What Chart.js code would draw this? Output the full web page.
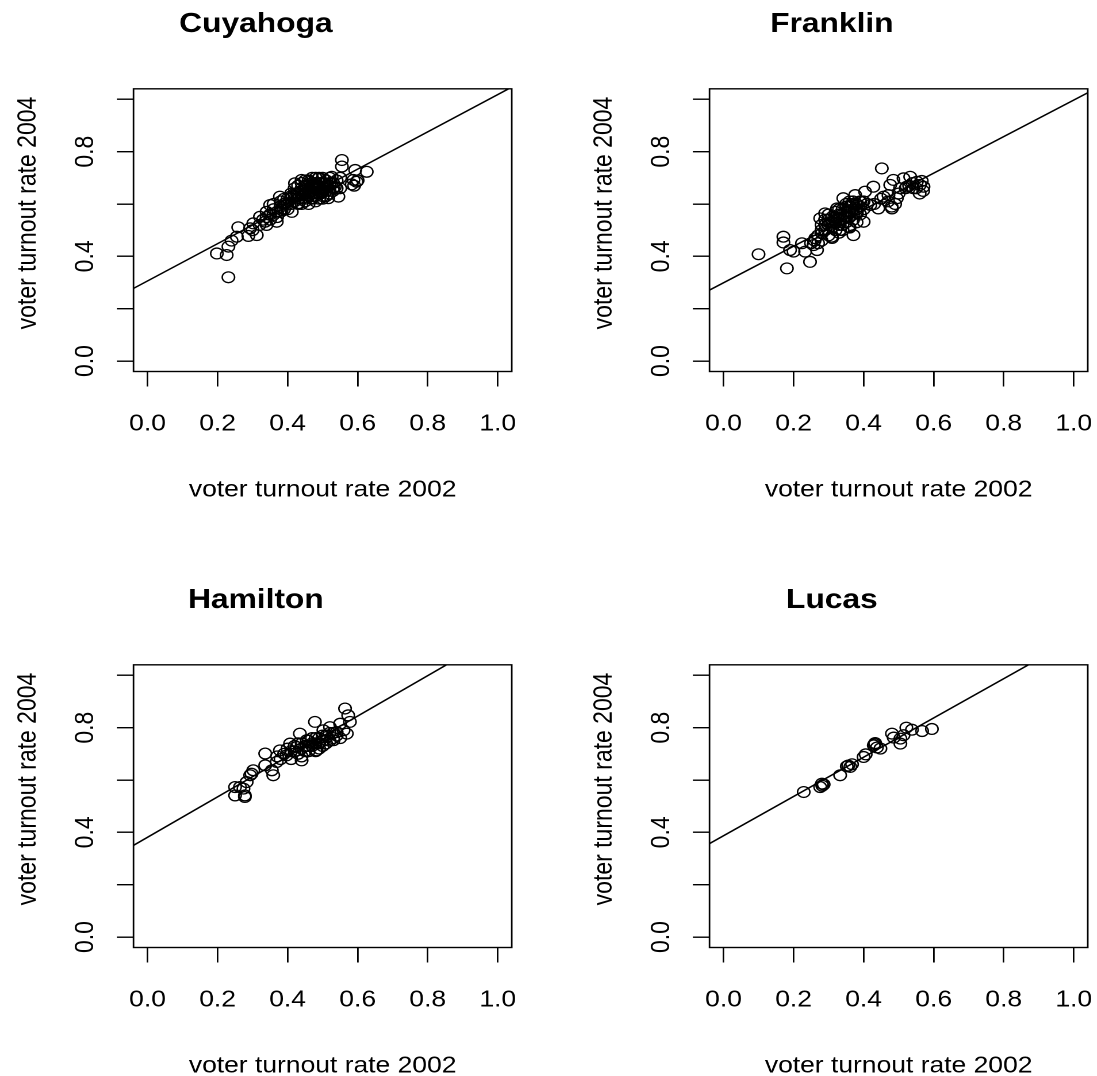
<!DOCTYPE html>
<html>
<head>
<meta charset="utf-8">
<script src="https://cdn.jsdelivr.net/npm/chart.js@4.4.1/dist/chart.umd.min.js"></script>
<style>
  html, body { margin: 0; padding: 0; background: #fff; overflow: hidden; }
  body { width: 1097px; height: 1076px; position: relative; }
  canvas { position: absolute; transform-origin: 0 0; }
</style>
</head>
<body>
<canvas id="c0" width="453" height="540"></canvas>
<canvas id="c1" width="453" height="540"></canvas>
<canvas id="c2" width="453" height="540"></canvas>
<canvas id="c3" width="453" height="540"></canvas>
<script>
// voter turnout by precinct: [rate 2002, rate 2004]
const cuyahoga = [
  [0.231,0.320],[0.198,0.411],[0.226,0.405],[0.231,0.437],[0.240,0.460],[0.255,0.475],[0.259,0.511],
  [0.288,0.478],[0.293,0.507],[0.302,0.526],[0.312,0.481],[0.321,0.551],[0.336,0.532],[0.340,0.570],
  [0.350,0.596],[0.359,0.558],[0.369,0.532],[0.378,0.628],[0.383,0.577],[0.393,0.603],[0.412,0.570],
  [0.421,0.679],[0.426,0.641],[0.431,0.603],[0.440,0.692],[0.450,0.653],[0.464,0.685],[0.469,0.622],
  [0.478,0.666],[0.488,0.698],[0.497,0.641],[0.507,0.679],[0.516,0.622],[0.526,0.704],[0.535,0.666],
  [0.545,0.628],[0.555,0.768],[0.555,0.743],[0.550,0.660],[0.593,0.730],[0.597,0.685],[0.588,0.692],
  [0.626,0.723],[0.583,0.675],[0.590,0.670],[0.600,0.690],
  [0.40,0.62],[0.41,0.60],[0.41,0.64],[0.42,0.61],[0.42,0.66],[0.43,0.63],[0.43,0.67],[0.44,0.62],
  [0.44,0.65],[0.44,0.68],[0.45,0.61],[0.45,0.64],[0.45,0.67],[0.46,0.63],[0.46,0.66],[0.46,0.69],
  [0.47,0.62],[0.47,0.65],[0.47,0.68],[0.48,0.63],[0.48,0.67],[0.48,0.70],[0.49,0.64],[0.49,0.66],
  [0.50,0.65],[0.50,0.68],[0.50,0.62],[0.51,0.66],[0.51,0.69],[0.52,0.64],[0.52,0.67],[0.53,0.65],
  [0.53,0.68],[0.54,0.66],[0.44,0.60],[0.46,0.60],[0.48,0.61],[0.49,0.70],[0.45,0.69],[0.47,0.70],
  [0.42,0.63],[0.39,0.60],[0.38,0.59],[0.37,0.57],[0.36,0.58],[0.35,0.56],[0.34,0.55],[0.33,0.54],
  [0.36,0.60],[0.40,0.58],[0.39,0.62],[0.30,0.50],[0.32,0.52],[0.34,0.52],[0.35,0.54],[0.37,0.55],
  [0.38,0.61],[0.41,0.62],[0.43,0.60],[0.50,0.70],[0.52,0.70],[0.54,0.69],[0.55,0.70],[0.51,0.63],
  [0.49,0.62],[0.43,0.64],[0.44,0.66],[0.45,0.62],[0.45,0.65],[0.46,0.64],[0.46,0.67],[0.47,0.63],
  [0.47,0.66],[0.48,0.64],[0.48,0.66],[0.48,0.68],[0.49,0.65],[0.49,0.67],[0.50,0.63],[0.50,0.66],
  [0.51,0.65],[0.51,0.67],[0.52,0.65],[0.52,0.68],[0.53,0.66],[0.42,0.64],[0.43,0.62],[0.44,0.64],
  [0.46,0.65],[0.47,0.67],[0.49,0.68],[0.41,0.63],[0.40,0.60],[0.39,0.58],[0.38,0.57]
];
const franklin = [
  [0.452,0.736],[0.100,0.408],[0.181,0.354],[0.171,0.475],[0.171,0.453],[0.190,0.424],[0.200,0.418],
  [0.224,0.450],[0.233,0.418],[0.247,0.379],[0.257,0.443],[0.267,0.424],[0.262,0.469],[0.281,0.488],
  [0.276,0.545],[0.290,0.564],[0.300,0.520],[0.309,0.475],[0.319,0.539],[0.324,0.583],[0.333,0.501],
  [0.342,0.622],[0.347,0.551],[0.357,0.513],[0.362,0.590],[0.371,0.481],[0.376,0.634],[0.381,0.564],
  [0.390,0.609],[0.400,0.532],[0.404,0.647],[0.419,0.596],[0.428,0.666],[0.442,0.583],[0.457,0.628],
  [0.471,0.634],[0.476,0.673],[0.485,0.692],[0.495,0.622],[0.504,0.660],[0.514,0.698],[0.523,0.666],
  [0.533,0.704],[0.542,0.660],[0.552,0.685],[0.561,0.673],[0.571,0.666],[0.566,0.688],[0.481,0.583],
  [0.28,0.52],[0.29,0.50],[0.29,0.54],[0.30,0.53],[0.30,0.56],[0.31,0.51],[0.31,0.55],[0.32,0.53],
  [0.32,0.57],[0.33,0.52],[0.33,0.56],[0.34,0.54],[0.34,0.58],[0.35,0.53],[0.35,0.57],[0.35,0.60],
  [0.36,0.55],[0.36,0.59],[0.37,0.54],[0.37,0.58],[0.37,0.61],[0.38,0.57],[0.38,0.60],[0.39,0.56],
  [0.39,0.59],[0.40,0.58],[0.40,0.61],[0.41,0.60],[0.26,0.46],[0.27,0.45],[0.27,0.48],[0.28,0.46],
  [0.25,0.45],[0.30,0.48],[0.31,0.47],[0.33,0.49],[0.34,0.50],[0.36,0.51],[0.38,0.53],[0.43,0.60],
  [0.45,0.62],[0.47,0.61],[0.48,0.59],[0.50,0.64],[0.53,0.67],[0.55,0.66],[0.57,0.65],[0.56,0.64],
  [0.54,0.68],[0.52,0.66],[0.49,0.60],[0.30,0.54],[0.31,0.53],[0.32,0.55],[0.33,0.54],[0.33,0.58],
  [0.34,0.56],[0.35,0.55],[0.35,0.59],[0.36,0.57],[0.36,0.61],[0.37,0.56],[0.37,0.60],[0.38,0.58],
  [0.39,0.61],[0.29,0.52],[0.28,0.50],[0.32,0.50],[0.34,0.52]
];
const hamilton = [
  [0.564,0.873],[0.573,0.847],[0.578,0.822],[0.569,0.777],[0.550,0.815],[0.540,0.783],[0.478,0.822],
  [0.483,0.713],[0.455,0.752],[0.435,0.777],[0.440,0.675],[0.426,0.726],[0.407,0.739],[0.397,0.694],
  [0.378,0.713],[0.369,0.669],[0.359,0.618],[0.355,0.637],[0.336,0.701],[0.336,0.656],[0.302,0.637],
  [0.293,0.618],[0.283,0.592],[0.274,0.567],[0.278,0.535],[0.264,0.573],[0.512,0.764],[0.521,0.802],
  [0.502,0.790],[0.531,0.752],[0.250,0.573],[0.250,0.541],[0.278,0.541],[0.297,0.624],
  [0.39,0.70],[0.40,0.72],[0.41,0.71],[0.42,0.73],[0.43,0.70],[0.43,0.74],[0.44,0.72],[0.45,0.73],
  [0.46,0.71],[0.46,0.75],[0.47,0.73],[0.47,0.76],[0.48,0.74],[0.49,0.72],[0.49,0.76],[0.50,0.75],
  [0.50,0.73],[0.51,0.77],[0.52,0.75],[0.52,0.78],[0.53,0.76],[0.54,0.77],[0.55,0.76],[0.56,0.79],
  [0.38,0.68],[0.37,0.69],[0.41,0.68],[0.44,0.69],[0.48,0.71],[0.45,0.71],[0.46,0.73],[0.47,0.74],
  [0.48,0.76],[0.49,0.74],[0.50,0.77],[0.51,0.74],[0.53,0.78],[0.42,0.71],[0.44,0.74]
];
const lucas = [
  [0.229,0.554],[0.276,0.573],[0.281,0.586],[0.286,0.583],[0.282,0.578],[0.333,0.618],[0.352,0.652],
  [0.367,0.660],[0.362,0.650],[0.356,0.655],[0.400,0.688],[0.406,0.698],[0.429,0.732],[0.433,0.741],
  [0.431,0.737],[0.438,0.724],[0.448,0.720],[0.481,0.777],[0.486,0.762],[0.505,0.739],[0.505,0.758],
  [0.514,0.771],[0.522,0.800],[0.538,0.792],[0.567,0.787],[0.595,0.795]
];

const counties = ["Cuyahoga", "Franklin", "Hamilton", "Lucas"];
const countyData = [cuyahoga, franklin, hamilton, lucas];
// least squares fit of 2004 on 2002, one per county
const fitIntercept = [0.306, 0.299, 0.381, 0.387];
const fitSlope = [0.712, 0.698, 0.772, 0.750];

const axisTicks = [0, 0.2, 0.4, 0.6, 0.8, 1.0];
const xTickLabels = ["0.0", "0.2", "0.4", "0.6", "0.8", "1.0"];
const yTickLabels = ["0.0", "", "0.4", "", "0.8", ""];
const xTitle = "voter turnout rate 2002";
const yTitle = "voter turnout rate 2004";
const axisMin = -0.04, axisMax = 1.04;

// the reference picture is wider than tall, so every panel is stretched sideways
const STRETCH = 1.15;
const panelLeft = [0, 576, 0, 576];
const panelTop = [0, 0, 576, 576];
const FONT = '"Liberation Sans", Arial, Helvetica, sans-serif';

Chart.defaults.font.family = FONT;
Chart.defaults.color = "#000";

// R-style closed box round the plot region, plus the y label
// (R sets it a little above the middle of the box)
const boxPlugin = {
  id: "box",
  afterDraw(chart) {
    const { ctx, chartArea: a } = chart;
    ctx.save();
    ctx.strokeStyle = "#000";
    ctx.lineWidth = 1.4;
    ctx.strokeRect(a.left, a.top, a.right - a.left, a.bottom - a.top);

    ctx.translate(31, 213);
    ctx.rotate(-Math.PI / 2);
    ctx.font = "23px " + FONT;
    ctx.fillStyle = "#000";
    ctx.textAlign = "center";
    ctx.textBaseline = "alphabetic";
    ctx.fillText(yTitle, 0, 0);
    ctx.restore();
  },
};

function makePanel(i) {
  const canvas = document.getElementById("c" + i);
  canvas.style.left = panelLeft[i] + "px";
  canvas.style.top = panelTop[i] + "px";
  canvas.style.transform = `scaleX(${STRETCH})`;

  const a = fitIntercept[i], b = fitSlope[i];
  const fitLine = [axisMin, axisMax].map((x) => ({ x, y: a + b * x }));

  return new Chart(canvas, {
    type: "scatter",
    data: {
      datasets: [
        {
          data: countyData[i].map(([x, y]) => ({ x, y })),
          pointStyle: "circle",
          pointRadius: 5.4,
          pointBorderWidth: 1.3,
          borderColor: "#000",
          backgroundColor: "rgba(0,0,0,0)",
        },
        {
          type: "line",
          data: fitLine,
          borderColor: "#000",
          borderWidth: 1.5,
          pointRadius: 0,
          fill: false,
        },
      ],
    },
    options: {
      responsive: false,
      animation: false,
      devicePixelRatio: 2,
      layout: { padding: { left: 0, right: 8, top: 0, bottom: 0 } },
      plugins: {
        legend: { display: false },
        tooltip: { enabled: false },
        title: {
          display: true,
          text: counties[i],
          font: { size: 27.6, weight: "bold", lineHeight: 1.2 },
          padding: { top: 8, bottom: 47.7 },
        },
      },
      scales: {
        x: {
          type: "linear",
          min: axisMin,
          max: axisMax,
          afterBuildTicks: (s) => { s.ticks = axisTicks.map((v) => ({ value: v })); },
          afterFit: (s) => {
            s.height = 540 - 371.5;
            s.paddingLeft = 0;
            s.paddingRight = 0;
          },
          border: { display: false },
          grid: { drawOnChartArea: false, drawTicks: true, tickLength: 15, color: "#000", lineWidth: 1.4 },
          ticks: {
            padding: 24,
            maxRotation: 0,
            font: { size: 23 },
            callback: (v, idx) => xTickLabels[idx],
          },
          title: {
            display: true,
            text: xTitle,
            font: { size: 23, lineHeight: 1.2 },
            padding: { top: 0, bottom: 36 },
          },
        },
        y: {
          type: "linear",
          min: axisMin,
          max: axisMax,
          afterBuildTicks: (s) => { s.ticks = axisTicks.map((v) => ({ value: v })); },
          afterFit: (s) => {
            s.width = 133.5 / STRETCH;
            s.paddingTop = 0;
            s.paddingBottom = 0;
          },
          border: { display: false },
          grid: { drawOnChartArea: false, drawTicks: true, tickLength: 14.5, color: "#000", lineWidth: 1.4 },
          ticks: {
            padding: 11,
            minRotation: 90,
            maxRotation: 90,
            crossAlign: "center",
            font: { size: 23 },
            callback: (v, idx) => yTickLabels[idx],
          },
        },
      },
    },
    plugins: [boxPlugin],
  });
}

counties.forEach((_, i) => makePanel(i));
</script>
</body>
</html>
